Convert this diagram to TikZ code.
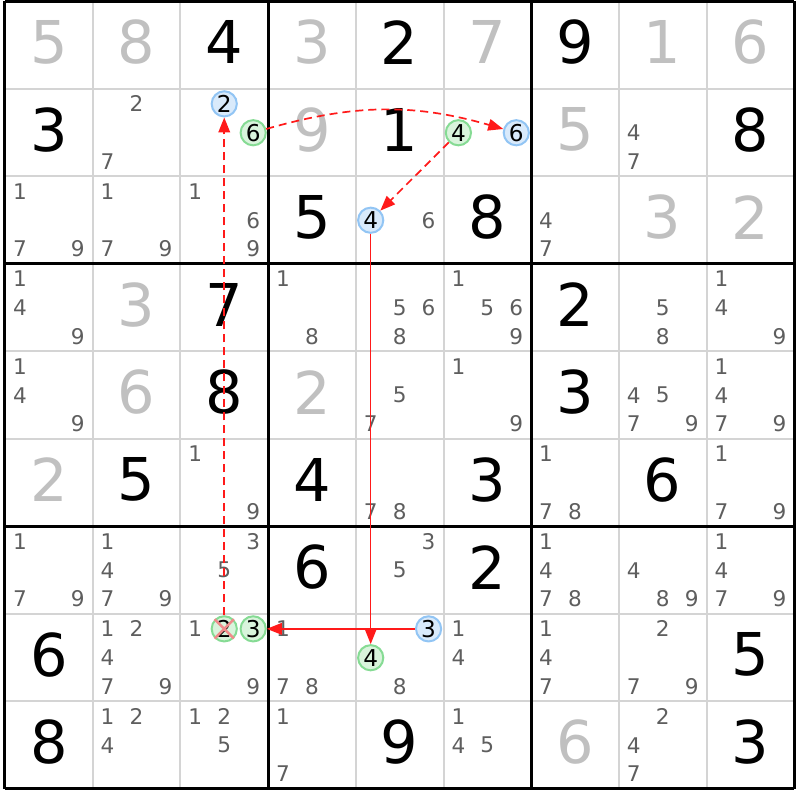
\documentclass[tikz,border=0pt]{standalone}
\usepackage{fontspec}
\setmainfont{DejaVu Sans}
\usepackage{xcolor}
\usepackage{tikz}
\usetikzlibrary{arrows.meta}
\definecolor{givengray}{HTML}{C0C0C0}
\definecolor{candgray}{HTML}{5E5E5E}
\definecolor{gridgray}{HTML}{D4D4D4}
\definecolor{blueline}{HTML}{92C5F4}
\definecolor{bluefill}{HTML}{D9EAFB}
\definecolor{greenline}{HTML}{86DB94}
\definecolor{greenfill}{HTML}{D9F4DC}
\definecolor{linkred}{HTML}{FF1A1A}
\definecolor{crossred}{HTML}{F08A8A}
\tikzset{
    given/.style={inner sep=0pt, yshift=1.5pt, font=\fontsize{29.5}{31}\selectfont, text=givengray},
    solved/.style={given, text=black},
    cand/.style={inner sep=0pt, font=\fontsize{10.8}{12}\selectfont, text=candgray},
    bluecand/.style={cand, circle, font=\fontsize{11.6}{12}\selectfont, text=black, draw=blueline, fill=bluefill, line width=1pt, minimum size=12.6pt},
    greencand/.style={bluecand, draw=greenline, fill=greenfill},
    strong/.style={draw=linkred, line width=0.65pt, -{Triangle[length=7.5pt,width=5.8pt]}},
    weak/.style={strong, line width=0.85pt, dash pattern=on 4pt off 2.5pt}}
% candidates of one cell: col, row, digits
\newcommand{\cands}[3]{%
  \foreach \k in {#3}{\node[cand] (k#1#2\k) at ({#1+0.33*(mod(\k-1,3)-1)},{#2+0.33*(floor((\k-1)/3)-1)}) {\k};}}

\begin{document}
\begin{tikzpicture}[x=43.85pt, y=-43.75pt]
\useasboundingbox (0.443,0.483) rectangle (9.565,9.626);

% grid
\foreach \i in {1.5,2.5,4.5,5.5,7.5,8.5}{
  \draw[gridgray, line width=1pt] (\i,0.5) -- (\i,9.5);
  \draw[gridgray, line width=1pt] (0.5,\i) -- (9.5,\i);}
\foreach \i in {0.5,3.5,6.5,9.5}{
  \draw[black, line width=1.5pt] (\i,0.5) -- (\i,9.5);
  \draw[black, line width=1.5pt] (0.5,\i) -- (9.5,\i);}

% row 1
\node[given]  (d11) at (1,1) {5};
\node[given]  (d21) at (2,1) {8};
\node[solved] (d31) at (3,1) {4};
\node[given]  (d41) at (4,1) {3};
\node[solved] (d51) at (5,1) {2};
\node[given]  (d61) at (6,1) {7};
\node[solved] (d71) at (7,1) {9};
\node[given]  (d81) at (8,1) {1};
\node[given]  (d91) at (9,1) {6};
% row 2
\node[solved] (d12) at (1,2) {3};
\cands{2}{2}{2,7}
\node[given]  (d42) at (4,2) {9};
\node[solved] (d52) at (5,2) {1};
\node[given]  (d72) at (7,2) {5};
\cands{8}{2}{4,7}
\node[solved] (d92) at (9,2) {8};
% row 3
\cands{1}{3}{1,7,9}
\cands{2}{3}{1,7,9}
\cands{3}{3}{1,6,9}
\node[solved] (d43) at (4,3) {5};
\cands{5}{3}{6}
\node[solved] (d63) at (6,3) {8};
\cands{7}{3}{4,7}
\node[given]  (d83) at (8,3) {3};
\node[given]  (d93) at (9,3) {2};
% row 4
\cands{1}{4}{1,4,9}
\node[given]  (d24) at (2,4) {3};
\node[solved] (d34) at (3,4) {7};
\cands{4}{4}{1,8}
\cands{5}{4}{5,6,8}
\cands{6}{4}{1,5,6,9}
\node[solved] (d74) at (7,4) {2};
\cands{8}{4}{5,8}
\cands{9}{4}{1,4,9}
% row 5
\cands{1}{5}{1,4,9}
\node[given]  (d25) at (2,5) {6};
\node[solved] (d35) at (3,5) {8};
\node[given]  (d45) at (4,5) {2};
\cands{5}{5}{5,7}
\cands{6}{5}{1,9}
\node[solved] (d75) at (7,5) {3};
\cands{8}{5}{4,5,7,9}
\cands{9}{5}{1,4,7,9}
% row 6
\node[given]  (d16) at (1,6) {2};
\node[solved] (d26) at (2,6) {5};
\cands{3}{6}{1,9}
\node[solved] (d46) at (4,6) {4};
\cands{5}{6}{7,8}
\node[solved] (d66) at (6,6) {3};
\cands{7}{6}{1,7,8}
\node[solved] (d86) at (8,6) {6};
\cands{9}{6}{1,7,9}
% row 7
\cands{1}{7}{1,7,9}
\cands{2}{7}{1,4,7,9}
\cands{3}{7}{3,5}
\node[solved] (d47) at (4,7) {6};
\cands{5}{7}{3,5}
\node[solved] (d67) at (6,7) {2};
\cands{7}{7}{1,4,7,8}
\cands{8}{7}{4,8,9}
\cands{9}{7}{1,4,7,9}
% row 8
\node[solved] (d18) at (1,8) {6};
\cands{2}{8}{1,2,4,7,9}
\cands{3}{8}{1,9}
\cands{4}{8}{1,7,8}
\cands{5}{8}{8}
\cands{6}{8}{1,4}
\cands{7}{8}{1,4,7}
\cands{8}{8}{2,7,9}
\node[solved] (d98) at (9,8) {5};
% row 9
\node[solved] (d19) at (1,9) {8};
\cands{2}{9}{1,2,4}
\cands{3}{9}{1,2,5}
\cands{4}{9}{1,7}
\node[solved] (d59) at (5,9) {9};
\cands{6}{9}{1,4,5}
\node[given]  (d79) at (7,9) {6};
\cands{8}{9}{2,4,7}
\node[solved] (d99) at (9,9) {3};

% chain
\node[bluecand]  (k322) at (3,1.67) {2};
\node[greencand] (k326) at (3.33,2) {6};
\node[greencand] (k624) at (5.67,2) {4};
\node[bluecand]  (k626) at (6.33,2) {6};
\node[bluecand]  (k534) at (4.67,3) {4};
\node[greencand] (k382) at (3,7.67) {2};
\node[greencand] (k383) at (3.33,7.67) {3};
\node[bluecand]  (k583) at (5.33,7.67) {3};
\node[greencand] (k584) at (4.67,8) {4};

\draw[crossred, line width=1.2pt] (k382.north west) -- (k382.south east)
  (k382.north east) -- (k382.south west);

\draw[weak] (k382) -- (k322);
\draw[weak] (k326) to[bend left=16] (k626);
\draw[weak] (k624) -- (k534);
\draw[strong] (k534) -- (k584);
\draw[strong] (k583) -- (k383);
\end{tikzpicture}
\end{document}
